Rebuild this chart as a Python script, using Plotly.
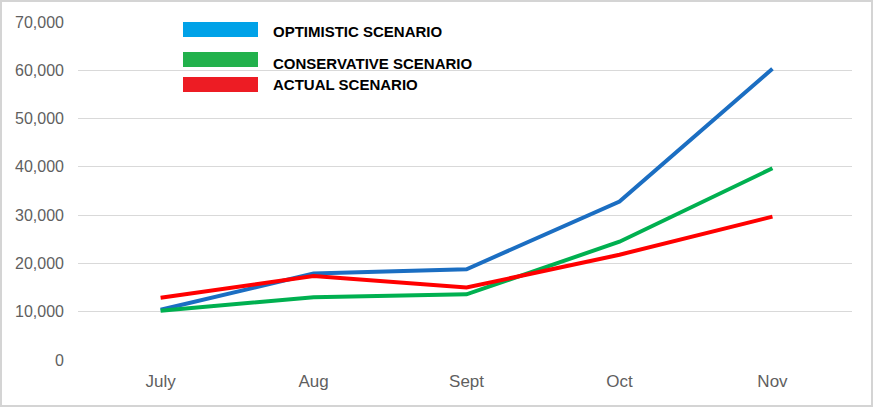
import plotly.graph_objects as go

months = ["July", "Aug", "Sept", "Oct", "Nov"]
optimistic = [10400, 17900, 18800, 32800, 60300]
conservative = [10200, 13000, 13600, 24500, 39700]
actual = [12900, 17400, 15000, 21800, 29700]

y_ticks = [0, 10000, 20000, 30000, 40000, 50000, 60000, 70000]

W, H = 873, 407
ml, mr, mt, mb = 78, 21, 22, 47
pw = W - ml - mr
ph = H - mt - mb

fig = go.Figure()
fig.add_trace(go.Scatter(x=months, y=optimistic, mode="lines", name="OPTIMISTIC SCENARIO",
                         line=dict(color="#1b6ec2", width=4)))
fig.add_trace(go.Scatter(x=months, y=conservative, mode="lines", name="CONSERVATIVE SCENARIO",
                         line=dict(color="#00b050", width=4)))
fig.add_trace(go.Scatter(x=months, y=actual, mode="lines", name="ACTUAL SCENARIO",
                         line=dict(color="#ff0000", width=4)))


# helpers to place things in pixel coords of the whole picture
def px_x(x):
    return (x - ml) / pw


def px_y(y):
    return 1 - (y - mt) / ph


# hand-drawn style legend: big colour bars + bold text
legend_items = [
    ("OPTIMISTIC SCENARIO", "#00a2e8", 22, 37, 31),
    ("CONSERVATIVE SCENARIO", "#22b14c", 52, 67, 64),
    ("ACTUAL SCENARIO", "#ed1c24", 77, 92, 85),
]
shapes = []
annotations = []
for label, col, top, bot, ty in legend_items:
    shapes.append(dict(type="rect", xref="paper", yref="paper",
                       x0=px_x(183), x1=px_x(258), y0=px_y(bot), y1=px_y(top),
                       fillcolor=col, line=dict(width=0), layer="above"))
    annotations.append(dict(xref="paper", yref="paper", x=px_x(271), y=px_y(ty),
                            xanchor="left", yanchor="middle", showarrow=False, text="<b>" + label + "</b>",
                            font=dict(family="Liberation Sans", size=15, color="black")))

# outer grey frame
shapes.append(dict(type="rect", xref="paper", yref="paper",
                   x0=px_x(1), x1=px_x(W - 1), y0=px_y(H - 1), y1=px_y(1),
                   line=dict(color="#d4d4d4", width=2), fillcolor="rgba(0,0,0,0)"))

fig.update_layout(
    width=W, height=H,
    margin=dict(l=ml, r=mr, t=mt, b=mb),
    paper_bgcolor="white", plot_bgcolor="white",
    showlegend=False,
    shapes=shapes,
    annotations=annotations,
    font=dict(family="Liberation Sans, Arial", size=16, color="#5f5f5f"),
)
fig.update_xaxes(type="category", range=[-0.54, 4.52], showgrid=False, showline=False,
                 ticks="", ticklabelstandoff=9, tickfont=dict(size=17, color="#5f5f5f"))
fig.update_yaxes(range=[0, 70000], tickvals=y_ticks, tickformat=",", showgrid=True,
                 gridcolor="#d9d9d9", gridwidth=1, zeroline=False, showline=False, ticks="",
                 ticklabelstandoff=13, tickfont=dict(size=16, color="#5f5f5f"))

# page has default body margin, drop it so the chart sits at the window corner
fig.write_html("out.html", config={"displayModeBar": False},
               post_script="document.body.style.margin='0';")
